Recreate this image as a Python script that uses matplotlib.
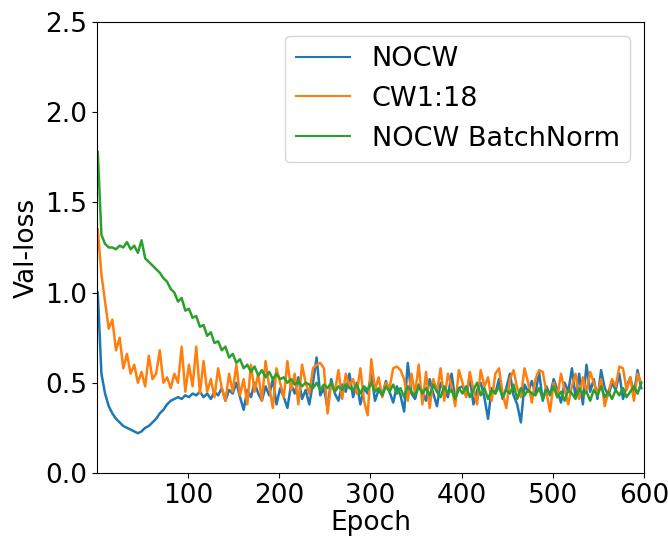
import numpy as np
import matplotlib
matplotlib.use("Agg")
import matplotlib.pyplot as plt

# epochs sampled every 4
epochs = list(range(1, 601, 4))

nocw = [
    1.00, 0.55, 0.44, 0.37, 0.33, 0.30, 0.28, 0.26, 0.25, 0.24,
    0.23, 0.22, 0.23, 0.25, 0.26, 0.28, 0.30, 0.33, 0.35, 0.38,
    0.40, 0.41, 0.42, 0.41, 0.43, 0.42, 0.44, 0.43, 0.45, 0.42,
    0.44, 0.41, 0.45, 0.43, 0.47, 0.40, 0.46, 0.44, 0.50, 0.42,
    0.35, 0.46, 0.42, 0.50, 0.44, 0.40, 0.48, 0.43, 0.52, 0.38,
    0.47, 0.42, 0.36, 0.49, 0.44, 0.53, 0.41, 0.46, 0.38, 0.50,
    0.64, 0.43, 0.47, 0.36, 0.52, 0.44, 0.40, 0.49, 0.45, 0.55,
    0.42, 0.50, 0.38, 0.47, 0.44, 0.55, 0.40, 0.46, 0.43, 0.51,
    0.45, 0.39, 0.48, 0.43, 0.34, 0.61, 0.44, 0.41, 0.49, 0.45,
    0.40, 0.52, 0.44, 0.37, 0.50, 0.46, 0.42, 0.55, 0.41, 0.47,
    0.48, 0.43, 0.53, 0.38, 0.46, 0.50, 0.42, 0.30, 0.47, 0.44,
    0.52, 0.41, 0.47, 0.55, 0.43, 0.38, 0.28, 0.49, 0.45, 0.51,
    0.44, 0.56, 0.40, 0.48, 0.43, 0.52, 0.46, 0.39, 0.50, 0.45,
    0.58, 0.42, 0.55, 0.38, 0.60, 0.45, 0.52, 0.41, 0.57, 0.47,
    0.43, 0.50, 0.46, 0.55, 0.41, 0.48, 0.53, 0.44, 0.57, 0.47,
]

cw1_18 = [
    1.35, 1.10, 0.95, 0.80, 0.85, 0.68, 0.75, 0.58, 0.66, 0.55,
    0.60, 0.50, 0.56, 0.48, 0.65, 0.52, 0.55, 0.68, 0.50, 0.53,
    0.47, 0.55, 0.50, 0.70, 0.45, 0.60, 0.48, 0.70, 0.44, 0.62,
    0.45, 0.52, 0.42, 0.58, 0.47, 0.40, 0.55, 0.45, 0.60, 0.43,
    0.52, 0.38, 0.60, 0.45, 0.55, 0.40, 0.62, 0.48, 0.36, 0.58,
    0.50, 0.42, 0.62, 0.46, 0.55, 0.38, 0.60, 0.50, 0.44, 0.58,
    0.60, 0.61, 0.58, 0.33, 0.50, 0.45, 0.57, 0.41, 0.55, 0.48,
    0.52, 0.44, 0.58, 0.40, 0.32, 0.63, 0.46, 0.53, 0.42, 0.50,
    0.47, 0.58, 0.59, 0.57, 0.52, 0.40, 0.55, 0.44, 0.60, 0.38,
    0.56, 0.36, 0.52, 0.45, 0.58, 0.40, 0.55, 0.48, 0.37, 0.57,
    0.50, 0.42, 0.56, 0.46, 0.38, 0.57, 0.48, 0.53, 0.40, 0.55,
    0.58, 0.44, 0.36, 0.52, 0.57, 0.47, 0.42, 0.58, 0.50, 0.39,
    0.52, 0.57, 0.56, 0.45, 0.34, 0.50, 0.42, 0.55, 0.46, 0.38,
    0.48, 0.55, 0.41, 0.53, 0.45, 0.56, 0.50, 0.43, 0.52, 0.37,
    0.45, 0.52, 0.48, 0.59, 0.58, 0.46, 0.53, 0.40, 0.55, 0.50,
]

nocw_bn = [
    1.78, 1.32, 1.27, 1.25, 1.25, 1.24, 1.26, 1.25, 1.28, 1.24,
    1.26, 1.22, 1.29, 1.19, 1.17, 1.15, 1.13, 1.11, 1.08, 1.06,
    1.02, 1.00, 0.95, 0.97, 0.90, 0.91, 0.86, 0.87, 0.81, 0.82,
    0.76, 0.78, 0.72, 0.73, 0.68, 0.70, 0.64, 0.66, 0.61, 0.63,
    0.58, 0.60, 0.56, 0.59, 0.54, 0.57, 0.53, 0.56, 0.52, 0.55,
    0.52, 0.53, 0.50, 0.52, 0.49, 0.51, 0.48, 0.50, 0.49, 0.47,
    0.50, 0.46, 0.49, 0.47, 0.50, 0.45, 0.48, 0.46, 0.49, 0.47,
    0.46, 0.49, 0.44, 0.48, 0.46, 0.50, 0.45, 0.47, 0.43, 0.48,
    0.45, 0.49, 0.44, 0.47, 0.42, 0.48, 0.45, 0.43, 0.48, 0.44,
    0.47, 0.43, 0.49, 0.45, 0.42, 0.48, 0.44, 0.46, 0.41, 0.47,
    0.44, 0.48, 0.42, 0.46, 0.50, 0.43, 0.47, 0.41, 0.46, 0.44,
    0.48, 0.42, 0.46, 0.44, 0.49, 0.41, 0.47, 0.43, 0.46, 0.44,
    0.43, 0.47, 0.41, 0.46, 0.44, 0.48, 0.42, 0.45, 0.40, 0.46,
    0.44, 0.41, 0.47, 0.43, 0.45, 0.40, 0.46, 0.43, 0.48, 0.42,
    0.45, 0.41, 0.46, 0.43, 0.47, 0.42, 0.45, 0.48, 0.44, 0.50,
]

fig = plt.figure(figsize=(6.68, 5.38), dpi=100)
ax = fig.add_axes([0.145, 0.121, 0.819, 0.838])

ax.plot(epochs, nocw, label="NOCW", lw=1.8)
ax.plot(epochs, cw1_18, label="CW1:18", lw=1.8)
ax.plot(epochs, nocw_bn, label="NOCW BatchNorm", lw=1.8)

ax.set_xlim(0, 600)
ax.set_ylim(0, 2.5)
ax.set_xticks([100, 200, 300, 400, 500, 600])
ax.set_yticks([0.0, 0.5, 1.0, 1.5, 2.0, 2.5])
ax.tick_params(labelsize=19)
ax.set_xlabel("Epoch", fontsize=19, labelpad=1)
ax.set_ylabel("Val-loss", fontsize=19)
leg = ax.legend(loc="upper right", fontsize=19.5)
for h in leg.get_lines():
    h.set_linewidth(1.5)

fig.savefig("out.png", dpi=100)
